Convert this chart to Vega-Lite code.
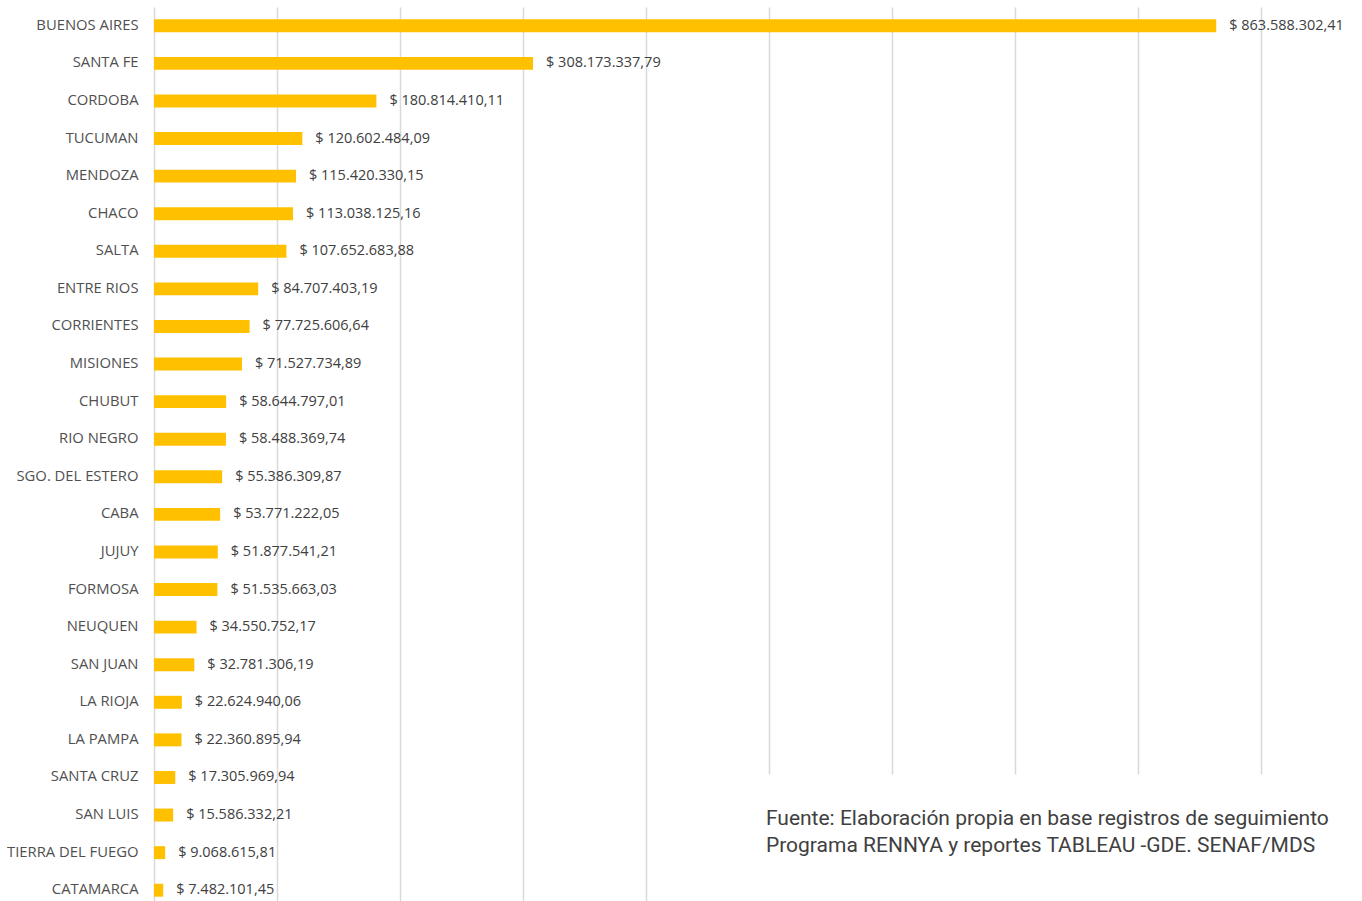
{
  "$schema": "https://vega.github.io/schema/vega-lite/v6.json",
  "width": 1107,
  "height": 902,
  "autosize": {"type": "none"},
  "padding": {"left": 154, "top": 7, "right": 101, "bottom": 0},
  "background": "#ffffff",
  "config": {
    "view": {"stroke": null},
    "locale": {"number": {"decimal": ",", "thousands": ".", "grouping": [3], "currency": ["$ ", ""]}}
  },
  "data": {
    "values": [
      {"provincia": "BUENOS AIRES", "monto": 863588302.41},
      {"provincia": "SANTA FE", "monto": 308173337.79},
      {"provincia": "CORDOBA", "monto": 180814410.11},
      {"provincia": "TUCUMAN", "monto": 120602484.09},
      {"provincia": "MENDOZA", "monto": 115420330.15},
      {"provincia": "CHACO", "monto": 113038125.16},
      {"provincia": "SALTA", "monto": 107652683.88},
      {"provincia": "ENTRE RIOS", "monto": 84707403.19},
      {"provincia": "CORRIENTES", "monto": 77725606.64},
      {"provincia": "MISIONES", "monto": 71527734.89},
      {"provincia": "CHUBUT", "monto": 58644797.01},
      {"provincia": "RIO NEGRO", "monto": 58488369.74},
      {"provincia": "SGO. DEL ESTERO", "monto": 55386309.87},
      {"provincia": "CABA", "monto": 53771222.05},
      {"provincia": "JUJUY", "monto": 51877541.21},
      {"provincia": "FORMOSA", "monto": 51535663.03},
      {"provincia": "NEUQUEN", "monto": 34550752.17},
      {"provincia": "SAN JUAN", "monto": 32781306.19},
      {"provincia": "LA RIOJA", "monto": 22624940.06},
      {"provincia": "LA PAMPA", "monto": 22360895.94},
      {"provincia": "SANTA CRUZ", "monto": 17305969.94},
      {"provincia": "SAN LUIS", "monto": 15586332.21},
      {"provincia": "TIERRA DEL FUEGO", "monto": 9068615.81},
      {"provincia": "CATAMARCA", "monto": 7482101.45}
    ]
  },
  "encoding": {
    "y": {
      "field": "provincia",
      "type": "nominal",
      "sort": null,
      "scale": {"paddingInner": 0.655, "paddingOuter": 0.3275},
      "axis": {
        "title": null,
        "domain": false,
        "ticks": false,
        "labelPadding": 16,
        "labelFont": "Open Sans",
        "labelFontSize": 14.8,
        "labelColor": "#505050"
      }
    }
  },
  "layer": [
    {
      "mark": {"type": "bar", "color": "#FFC000"},
      "encoding": {
        "x": {
          "field": "monto",
          "type": "quantitative",
          "scale": {"domain": [0, 900000000], "nice": false},
          "axis": {
            "title": null,
            "labels": false,
            "ticks": false,
            "domain": false,
            "grid": true,
            "values": [0, 100000000, 200000000, 300000000, 400000000, 500000000, 600000000, 700000000, 800000000, 900000000],
            "gridColor": "#D9D9D9",
            "gridWidth": 1.5
          }
        }
      }
    },
    {
      "data": {"values": [{}]},
      "mark": {"type": "rect", "color": "#ffffff", "clip": false, "yOffset": -3, "y2Offset": 30},
      "encoding": {
        "x": {"datum": 490000000, "type": "quantitative"},
        "x2": {"datum": 1000000000},
        "y": {"datum": "SANTA CRUZ"},
        "y2": {"datum": "CATAMARCA"}
      }
    },
    {
      "mark": {"type": "text", "align": "left", "baseline": "middle", "dx": 13, "font": "Open Sans", "fontSize": 14.5, "color": "#404040"},
      "encoding": {
        "x": {"field": "monto", "type": "quantitative"},
        "text": {"field": "monto", "type": "quantitative", "format": "$,.2f"}
      }
    },
    {
      "data": {"values": [{}]},
      "mark": {
        "type": "text",
        "align": "left",
        "baseline": "alphabetic",
        "dy": 10,
        "font": "Roboto",
        "fontSize": 21,
        "lineHeight": 27,
        "color": "#404040",
        "text": ["Fuente: Elaboración propia en base registros de seguimiento", "Programa RENNYA y reportes TABLEAU -GDE. SENAF/MDS"]
      },
      "encoding": {
        "x": {"datum": 497500000, "type": "quantitative"},
        "y": {"datum": "SAN LUIS"}
      }
    }
  ]
}
